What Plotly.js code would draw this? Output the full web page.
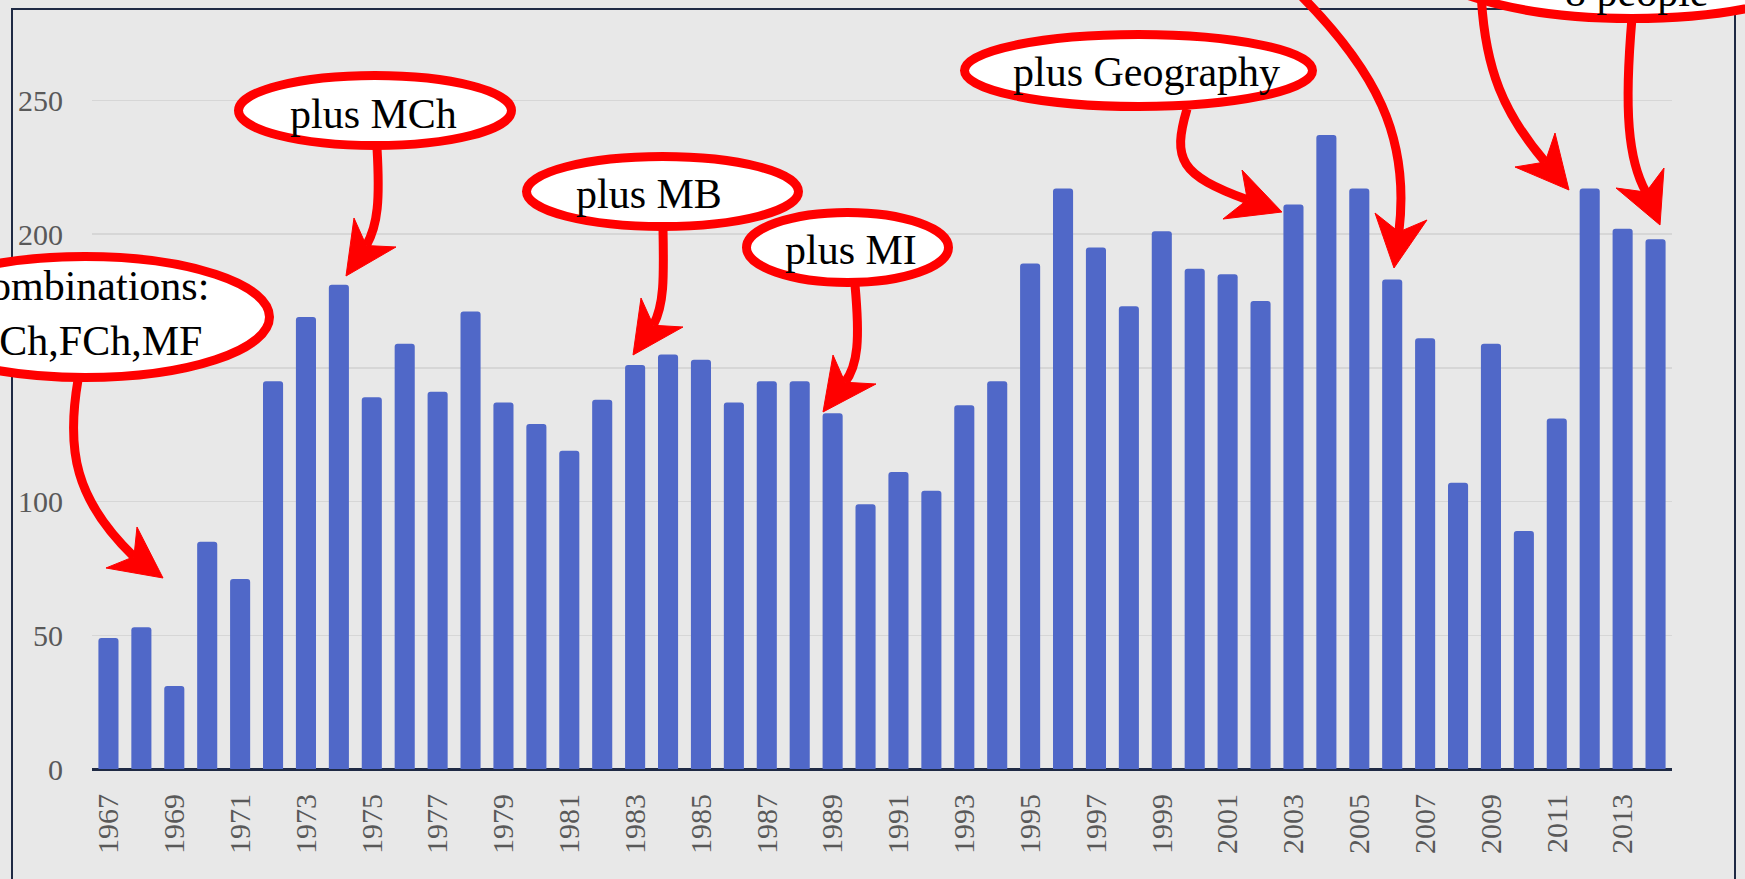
<!DOCTYPE html>
<html>
<head>
<meta charset="utf-8">
<script src="https://cdn.plot.ly/plotly-3.0.1.min.js"></script>
<style>
  html, body { margin: 0; padding: 0; background: #e8e8e8; }
  #chart { width: 1745px; height: 879px; }
</style>
</head>
<body>
<div id="chart"></div>
<script>
// ---- data ----
const years = [1967,1968,1969,1970,1971,1972,1973,1974,1975,1976,1977,1978,1979,1980,1981,1982,
               1983,1984,1985,1986,1987,1988,1989,1990,1991,1992,1993,1994,1995,1996,1997,1998,
               1999,2000,2001,2002,2003,2004,2005,2006,2007,2008,2009,2010,2011,2012,2013,2014];
const counts = [49,53,31,85,71,145,169,181,139,159,141,171,137,129,119,138,
                151,155,153,137,145,145,133,99,111,104,136,145,189,217,195,173,
                201,187,185,175,211,237,217,183,161,107,159,89,131,217,202,198];
const tickYears = [1967,1969,1971,1973,1975,1977,1979,1981,1983,1985,1987,1989,1991,
                   1993,1995,1997,1999,2001,2003,2005,2007,2009,2011,2013];
const tickLabels = tickYears.map(String);
const yTicks = [0,50,100,150,200,250];

const calloutTexts = {
  combo: "Combinations:<br>MCh,FCh,MF",
  mch: "plus MCh",
  mb: "plus MB",
  mi: "plus MI",
  geo: "plus Geography",
  people: "8 people"
};

// ---- layout geometry (pixels) ----
const W = 1745, H = 879;
const L = 92, R = 73, T = 20, B = 110;
const PW = W - L - R, PH = H - T - B;
const px = x => (x - L) / PW;
const py = y => (H - B - y) / PH;
const pt = (x, y) => px(x).toFixed(5) + ',' + py(y).toFixed(5);

const RED = '#ff0000';
const shapes = [];

// outer slide frame
shapes.push({type:'rect', xref:'paper', yref:'paper', layer:'below',
  x0:px(12), x1:px(1735), y0:py(900), y1:py(9),
  line:{color:'#1f2a44', width:2}, fillcolor:'rgba(0,0,0,0)'});

// arrow helper: stem (cubic) + stealth head
function arrow(stem, tip, b1, b2) {
  const mid = [(b1[0]+b2[0])/2, (b1[1]+b2[1])/2];
  const n = [mid[0] + 0.3*(tip[0]-mid[0]), mid[1] + 0.3*(tip[1]-mid[1])];
  const s = stem;
  shapes.push({type:'path', xref:'paper', yref:'paper',
    path:'M' + pt(s[0][0],s[0][1]) + ' C' + pt(s[1][0],s[1][1]) + ' ' + pt(s[2][0],s[2][1]) + ' ' + pt(n[0],n[1]),
    line:{color:RED, width:9}, fillcolor:'rgba(0,0,0,0)'});
  shapes.push({type:'path', xref:'paper', yref:'paper',
    path:'M' + pt(tip[0],tip[1]) + ' L' + pt(b1[0],b1[1]) + ' L' + pt(n[0],n[1]) + ' L' + pt(b2[0],b2[1]) + ' Z',
    line:{color:RED, width:1}, fillcolor:RED});
}
function ellipse(x0, x1, y0, y1) {
  shapes.push({type:'circle', xref:'paper', yref:'paper',
    x0:px(x0), x1:px(x1), y0:py(y1), y1:py(y0),
    line:{color:RED, width:9}, fillcolor:'#ffffff'});
}

// arrows
arrow([[78,380],[66,450],[75,500]], [163,578], [137,527], [106,568]);          // combinations
arrow([[377,148],[380,200],[378,225]], [346,276], [354,218], [396,247]);       // MCh
arrow([[663,229],[664,280],[664,305]], [633,355], [641,298], [683,327]);       // MB
arrow([[855,285],[860,340],[858,365]], [823,412], [833,355], [876,384]);       // MI
arrow([[1187,109],[1172,160],[1180,175]], [1282,212], [1242,170], [1223,219]); // Geography
arrow([[1285,-20],[1380,70],[1410,140]], [1394,268], [1375,213], [1427,220]);  // from above
arrow([[1481,-10],[1484,70],[1505,115]], [1569,190], [1555,133], [1515,167]);  // people -> 2012
arrow([[1632,18],[1624,110],[1628,160]], [1660,225], [1664,168], [1616,188]);  // people -> 2014

// ellipses
ellipse(-99.5, 269.5, 256.5, 377.5);
ellipse(238.5, 511.5, 75.5, 145.5);
ellipse(526.5, 798.5, 156.5, 226.5);
ellipse(746.5, 948.5, 212.5, 282.5);
ellipse(964.5, 1312.5, 34.5, 106.5);
ellipse(1417, 1847, -112.5, 18.5);

// texts
const tf = {family:'Liberation Serif, Times New Roman, serif', size:42, color:'#000000'};
function label(text, x, y, xanchor, align) {
  return {text:text, xref:'paper', yref:'paper', x:px(x), y:py(y),
    xanchor:xanchor || 'center', yanchor:'middle', align:align || 'center',
    showarrow:false, font:tf};
}
const annotations = [
  label(calloutTexts.combo, -40, 313, 'left', 'left'),
  label(calloutTexts.mch, 373, 114),
  label(calloutTexts.mb, 649, 194),
  label(calloutTexts.mi, 851, 250),
  label(calloutTexts.geo, 1146, 72),
  label(calloutTexts.people, 1636, -8)
];

const trace = {
  type:'bar', x:years, y:counts,
  marker:{color:'rgb(80,104,200)', cornerradius:3, line:{width:0}},
  hoverinfo:'x+y'
};

const axisFont = {family:'Liberation Serif, Times New Roman, serif', size:30, color:'#595959'};
const layout = {
  width:W, height:H,
  margin:{l:L, r:R, t:T, b:B, pad:0},
  paper_bgcolor:'#e8e8e8', plot_bgcolor:'rgba(0,0,0,0)',
  bargap:0.39,
  showlegend:false,
  xaxis:{
    type:'linear', range:[1966.5, 2014.5],
    tickmode:'array', tickvals:tickYears, ticktext:tickLabels,
    tickangle:-90, tickfont:axisFont, ticks:'', ticklabelstandoff:18,
    showgrid:false, zeroline:false, showline:false, fixedrange:true
  },
  yaxis:{
    range:[0, 280], tickmode:'array', tickvals:yTicks,
    tickfont:axisFont, ticks:'', ticklabelstandoff:28,
    showgrid:true, gridcolor:'#d6d6d6', gridwidth:1.5,
    zeroline:true, zerolinecolor:'#1f2a44', zerolinewidth:3,
    showline:false, fixedrange:true
  },
  shapes:shapes,
  annotations:annotations
};

Plotly.newPlot('chart', [trace], layout, {displayModeBar:false, staticPlot:true});
</script>
</body>
</html>
